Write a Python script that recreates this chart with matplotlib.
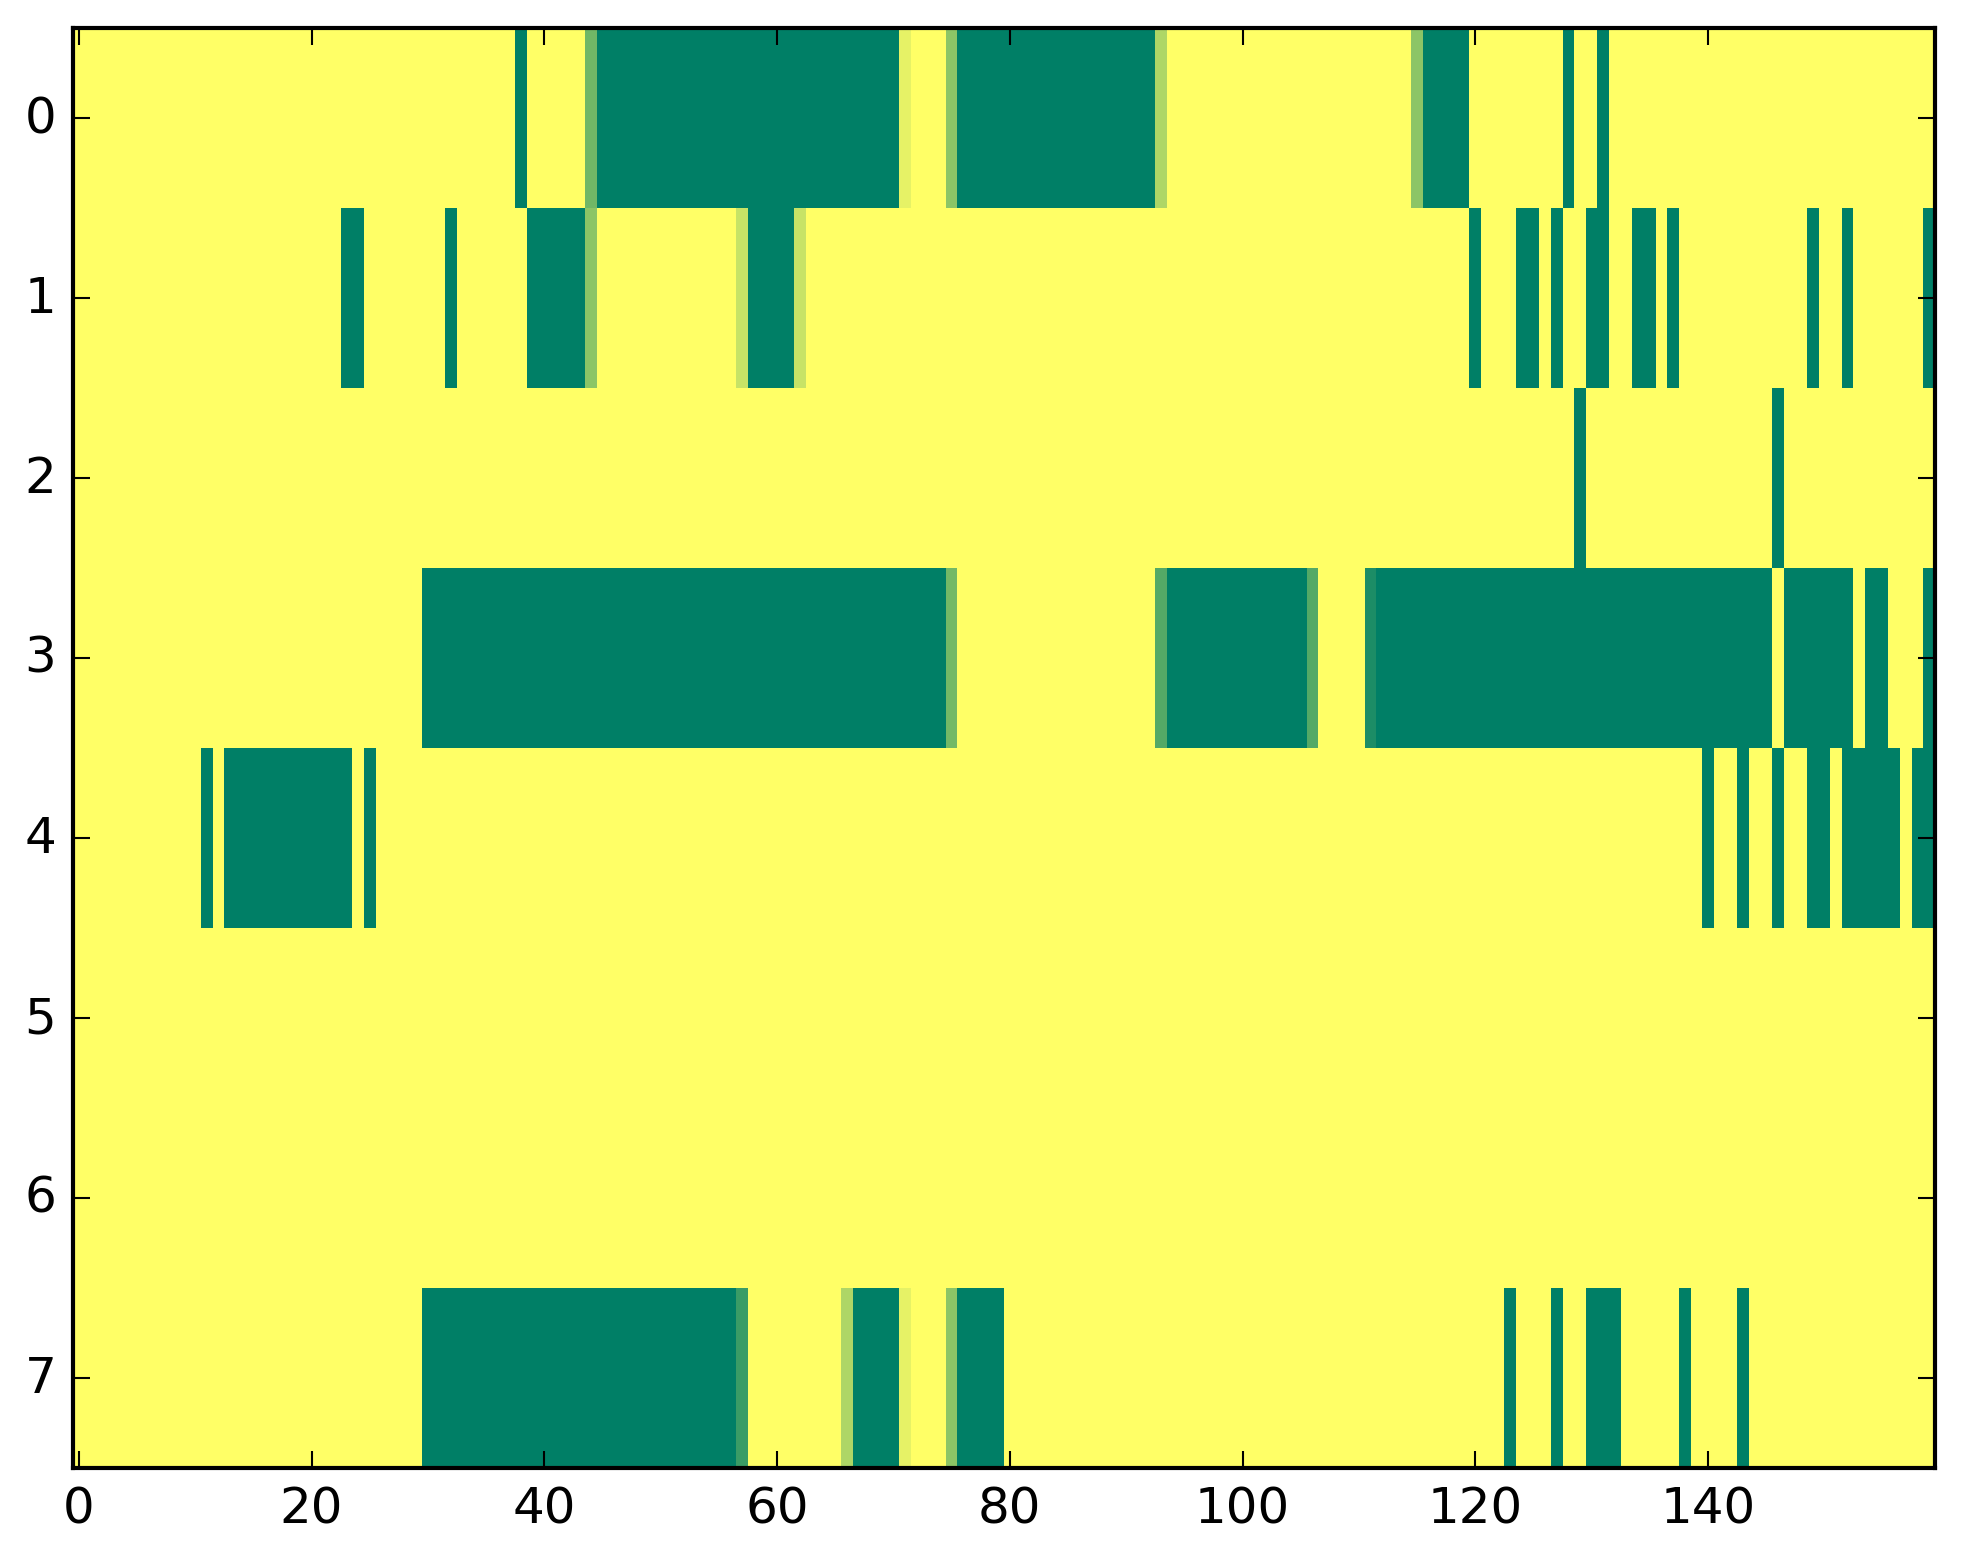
import matplotlib
matplotlib.use("Agg")
import matplotlib.pyplot as plt
import numpy as np

# --- Data: 8 rows x 160 columns, 1 = yellow, 0 = green ---
n_rows = 8
n_cols = 160

# green spans per row (inclusive column ranges)
row0_green = [(38, 38), (45, 70), (76, 92), (116, 119), (128, 128), (131, 131)]
row1_green = [(23, 24), (32, 32), (39, 43), (58, 61), (120, 120), (124, 125),
              (127, 127), (130, 131), (134, 135), (137, 137), (149, 149),
              (152, 152), (159, 159)]
row2_green = [(129, 129), (146, 146)]
row3_green = [(30, 74), (94, 105), (112, 145), (147, 152), (154, 155), (159, 159)]
row4_green = [(11, 11), (13, 23), (25, 25), (140, 140), (143, 143), (146, 146),
              (149, 150), (152, 156), (158, 159)]
row5_green = []
row6_green = []
row7_green = [(30, 56), (67, 70), (76, 79), (123, 123), (127, 127), (130, 132),
              (138, 138), (143, 143)]

# in-between cells at block edges
row0_partial = {44: 0.44, 71: 0.9, 75: 0.55, 93: 0.68, 115: 0.55}
row1_partial = {44: 0.55, 57: 0.78, 62: 0.78}
row3_partial = {75: 0.45, 93: 0.33, 106: 0.33, 111: 0.11}
row7_partial = {57: 0.23, 66: 0.68, 71: 0.9, 75: 0.55}

green_spans = [row0_green, row1_green, row2_green, row3_green,
               row4_green, row5_green, row6_green, row7_green]
partials = {0: row0_partial, 1: row1_partial, 3: row3_partial, 7: row7_partial}

data = np.ones((n_rows, n_cols))
for r, spans in enumerate(green_spans):
    for a, b in spans:
        data[r, a:b + 1] = 0.0
for r, cells in partials.items():
    for c, v in cells.items():
        data[r, c] = v

# --- Plotting ---
plt.style.use('classic')
fig = plt.figure(figsize=(1963 / 300, 1564 / 300), dpi=300, facecolor='white')
ax = fig.add_axes([73 / 1963, 1 - 1469 / 1564, (1935 - 73) / 1963, (1469 - 29) / 1564])
ax.imshow(data, cmap='summer', vmin=0, vmax=1, aspect='auto', interpolation='nearest')
ax.set_xlim(-0.5, n_cols - 0.5)
ax.set_ylim(n_rows - 0.5, -0.5)
ax.set_xticks(np.arange(0, 141, 20))
ax.set_yticks(np.arange(0, 8))

fig.savefig('out.png', dpi=300, facecolor='white')
